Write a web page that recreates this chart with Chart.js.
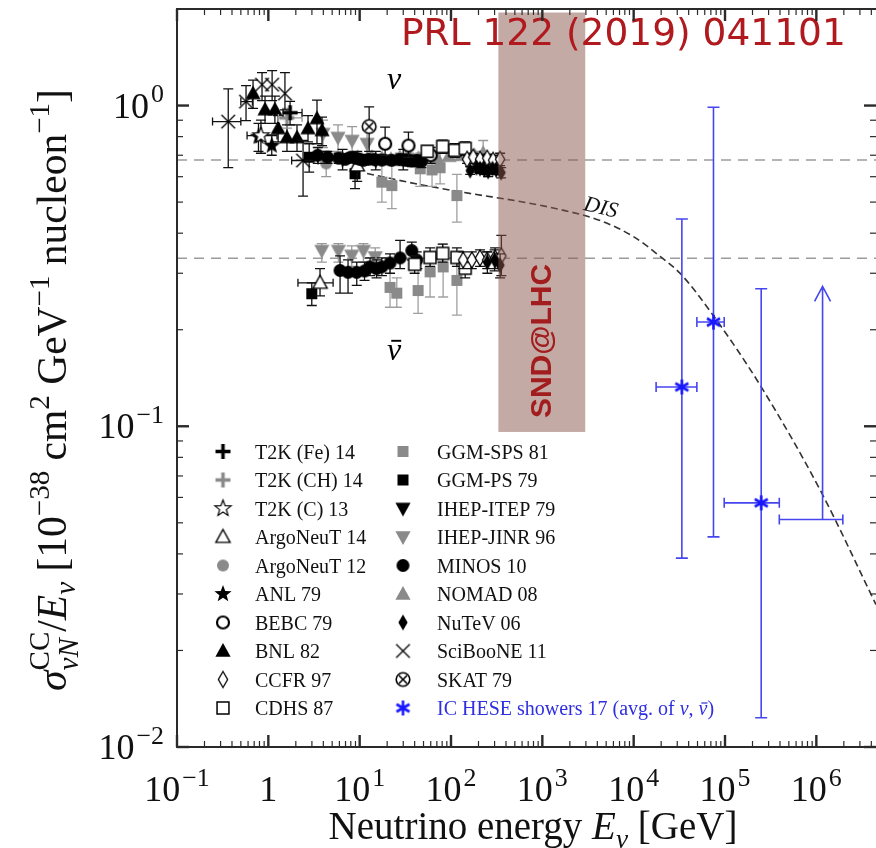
<!DOCTYPE html>
<html><head><meta charset="utf-8">
<script src="https://cdn.jsdelivr.net/npm/chart.js@4.4.1/dist/chart.umd.min.js"></script>
<style>html,body{margin:0;padding:0;background:#fff;overflow:hidden}canvas{display:block}</style>
</head><body>
<canvas id="c" width="876" height="848"></canvas>
<script>
// ---------------- DATA ----------------
// rows: [E (GeV), sigma/E, lower, upper, (E lower, E upper)]
const T2K_Fe_14 = [[1.73, 0.95, 0.87, 1.03, 1.45, 2.34]];
const T2K_CH_14 = [[1.60, 0.915, 0.85, 0.98, 1.29, 2.34]];
const T2K_C_13 = [[0.83, 0.806, 0.71, 0.90, 0.585, 1.245]];
const ArgoNeuT_14_nu = [[9.4, 0.65, 0.58, 0.72]];
const ArgoNeuT_14_nubar = [[3.68, 0.28, 0.255, 0.31, 2.11, 5.12]];
const ArgoNeuT_12 = [[4.3, 0.66, 0.60, 0.72]];
const ANL_79 = [[1.09, 0.75, 0.70, 0.81], [0.78, 0.80, 0.72, 0.88]];
const BEBC_79 = [[19, 0.76, 0.70, 0.856], [34.2, 0.75, 0.69, 0.826], [60, 0.70, 0.66, 0.74]];
const BNL_82 = [[0.68, 1.09, 0.98, 1.20], [0.92, 0.971, 0.88, 1.07], [1.18, 0.971, 0.88, 1.07],
  [1.28, 0.848, 0.77, 0.93], [1.60, 0.795, 0.72, 0.87], [2.06, 0.795, 0.72, 0.87],
  [2.72, 0.848, 0.77, 0.93], [3.41, 0.911, 0.76, 1.04], [3.87, 0.836, 0.75, 0.92]];
const CCFR_97_nu = [[150, 0.68, 0.66, 0.70], [175, 0.69, 0.67, 0.71], [208, 0.68, 0.66, 0.70],
  [249, 0.685, 0.665, 0.705], [289, 0.675, 0.655, 0.70], [345, 0.68, 0.65, 0.71]];
const CCFR_97_nubar = [[136, 0.33, 0.31, 0.35], [169, 0.33, 0.31, 0.35], [208, 0.335, 0.315, 0.355],
  [249, 0.33, 0.31, 0.35], [304, 0.335, 0.31, 0.36], [356, 0.34, 0.295, 0.394]];
const CDHS_87_nu = [[55, 0.72, 0.69, 0.75], [81, 0.745, 0.71, 0.78], [110, 0.725, 0.69, 0.76], [143, 0.735, 0.70, 0.77]];
const CDHS_87_nubar = [[40, 0.32, 0.30, 0.34], [59, 0.336, 0.315, 0.36], [81, 0.346, 0.325, 0.37],
  [116, 0.336, 0.315, 0.36], [143, 0.311, 0.29, 0.33]];
const GGM_SPS_81_nu = [[17.5, 0.577, 0.50, 0.66], [22.5, 0.563, 0.477, 0.65], [46, 0.635, 0.56, 0.71],
  [62, 0.63, 0.56, 0.70], [76, 0.64, 0.57, 0.71], [116, 0.524, 0.433, 0.61]];
const GGM_SPS_81_nubar = [[21.5, 0.271, 0.235, 0.31], [25.5, 0.26, 0.235, 0.29], [43.6, 0.265, 0.225, 0.31],
  [59, 0.303, 0.253, 0.35], [82, 0.314, 0.253, 0.37], [116, 0.285, 0.222, 0.35]];
const GGM_PS_79_nu = [[8.9, 0.613, 0.551, 0.674], [2.8, 0.69, 0.62, 0.76]];
const GGM_PS_79_nubar = [[2.99, 0.259, 0.238, 0.28]];
const IHEP_ITEP_79_nu = [[6.5, 0.68, 0.63, 0.73], [15, 0.675, 0.63, 0.72], [30, 0.68, 0.63, 0.73]];
const IHEP_JINR_96_nu = [[3.97, 0.818, 0.74, 0.90], [5.79, 0.795, 0.72, 0.87], [8.26, 0.778, 0.70, 0.86], [12.05, 0.761, 0.68, 0.84]];
const IHEP_JINR_96_nubar = [[3.85, 0.353, 0.325, 0.371], [5.85, 0.353, 0.325, 0.371], [8.19, 0.341, 0.315, 0.365],
  [11, 0.353, 0.325, 0.371], [14.8, 0.337, 0.31, 0.36]];
const MINOS_10_nu = [[3.48, 0.70, 0.66, 0.74], [4.45, 0.69, 0.66, 0.72], [5.89, 0.685, 0.66, 0.71], [6.98, 0.68, 0.66, 0.70],
  [7.97, 0.69, 0.67, 0.71], [8.97, 0.685, 0.665, 0.705], [9.98, 0.68, 0.66, 0.70], [11.0, 0.675, 0.655, 0.695],
  [12.5, 0.68, 0.66, 0.70], [14.5, 0.678, 0.66, 0.70], [17.5, 0.676, 0.655, 0.70], [22.4, 0.675, 0.655, 0.695],
  [27.4, 0.678, 0.655, 0.70], [32.4, 0.675, 0.65, 0.70], [37.4, 0.672, 0.645, 0.70], [42.4, 0.674, 0.645, 0.70], [47.4, 0.67, 0.64, 0.70]];
const MINOS_10_nubar = [[6.1, 0.306, 0.26, 0.34], [7.46, 0.302, 0.26, 0.33], [9.29, 0.302, 0.275, 0.325], [11.3, 0.305, 0.285, 0.325],
  [13, 0.314, 0.295, 0.335], [15.3, 0.31, 0.29, 0.33], [17.5, 0.314, 0.295, 0.335], [21.5, 0.323, 0.30, 0.345],
  [27.7, 0.335, 0.31, 0.38], [37.2, 0.353, 0.33, 0.375], [42.2, 0.33, 0.31, 0.35]];
const NOMAD_08 = [[9.5, 0.69, 0.67, 0.71], [13.5, 0.69, 0.67, 0.71], [17.5, 0.685, 0.665, 0.705], [22, 0.68, 0.66, 0.70],
  [27.5, 0.69, 0.67, 0.71], [35, 0.69, 0.67, 0.71], [44, 0.685, 0.665, 0.705], [55, 0.69, 0.67, 0.71],
  [70, 0.69, 0.67, 0.71], [95, 0.695, 0.675, 0.715], [130, 0.70, 0.68, 0.72], [180, 0.70, 0.68, 0.72], [225, 0.71, 0.68, 0.778]];
const NuTeV_06_nu = [[162, 0.627, 0.61, 0.645], [190, 0.64, 0.62, 0.66], [208, 0.636, 0.615, 0.655], [232, 0.63, 0.61, 0.65],
  [255, 0.623, 0.60, 0.645], [285, 0.636, 0.615, 0.655], [312, 0.63, 0.61, 0.65], [354, 0.618, 0.595, 0.64]];
const NuTeV_06_nubar = [[250, 0.325, 0.30, 0.35], [300, 0.33, 0.305, 0.355], [345, 0.318, 0.29, 0.345]];
const SciBooNE_11 = [[0.364, 0.891, 0.64, 1.127, 0.245, 0.5], [0.57, 1.029, 0.898, 1.154, 0.5, 0.67],
  [0.853, 1.162, 1.036, 1.267], [1.10, 1.162, 1.036, 1.285], [1.52, 1.09, 0.97, 1.267], [2.40, 0.674, 0.522, 0.778, 1.8, 3.5]];
const SKAT_79 = [[12.7, 0.86, 0.72, 0.99]];
const IC_HESE_17 = [[33700, 0.1326, 0.0388, 0.443, 17600, 49200], [74800, 0.2113, 0.0452, 0.988, 49200, 98000],
  [249000, 0.0577, 0.01234, 0.2685, 98000, 393000]];
const IC_HESE_17_limit = [[1.17e6, 0.0512, 0.273, 393000, 1.95e6]]; // E, lower limit, arrow tip, E lower, E upper
const DIS_curve = [[12.05, 0.614], [45.9, 0.567], [162, 0.532], [571, 0.502], [1567, 0.474], [4297, 0.438], [9874, 0.3907],
  [19510, 0.3385], [32300, 0.2997], [74240, 0.2217], [242900, 0.1342], [1.103e6, 0.0632], [4.5e6, 0.0278]];
const avgLines = [0.677, 0.334];
const sndBand = {eMin: 330, eMax: 2950, yMin: 0.096, yMax: 1.95};
const xDecades = [-1, 0, 1, 2, 3, 4, 5, 6];
const yDecades = [-2, -1, 0];
const X_MIN = 0.1, X_MAX = 4.5e6, Y_MIN = 0.01, Y_MAX = 2.0;

// ---------------- MARKERS ----------------
function marker(shape, fill, stroke, size, lw) {
  const pad = 4, S = Math.ceil(size + pad * 2);
  const c = document.createElement('canvas'); c.width = S; c.height = S;
  const g = c.getContext('2d'); g.translate(S / 2, S / 2);
  const r = size / 2;
  g.lineWidth = lw; g.strokeStyle = stroke || '#000'; g.fillStyle = fill || '#000'; g.lineJoin = 'miter';
  g.beginPath();
  if (shape === 'plus') { g.moveTo(-r, 0); g.lineTo(r, 0); g.moveTo(0, -r); g.lineTo(0, r); g.stroke(); }
  else if (shape === 'x') { const a = r * 0.8; g.moveTo(-a, -a); g.lineTo(a, a); g.moveTo(a, -a); g.lineTo(-a, a); g.stroke(); }
  else if (shape === 'aster') {
    for (let k = 0; k < 3; k++) { const t = Math.PI / 2 + k * Math.PI / 3; g.moveTo(r * Math.cos(t), r * Math.sin(t)); g.lineTo(-r * Math.cos(t), -r * Math.sin(t)); }
    g.stroke();
  } else {
    if (shape === 'circle' || shape === 'otimes') g.arc(0, 0, shape === 'otimes' ? r * 0.85 : r, 0, 2 * Math.PI);
    else if (shape === 'square') { const a = r * 0.85; g.rect(-a, -a, 2 * a, 2 * a); }
    else if (shape === 'triUp') { g.moveTo(0, -r); g.lineTo(r * 0.95, r * 0.72); g.lineTo(-r * 0.95, r * 0.72); g.closePath(); }
    else if (shape === 'triDown') { g.moveTo(0, r); g.lineTo(r * 0.95, -r * 0.72); g.lineTo(-r * 0.95, -r * 0.72); g.closePath(); }
    else if (shape === 'diamond') { g.moveTo(0, -r); g.lineTo(r * 0.58, 0); g.lineTo(0, r); g.lineTo(-r * 0.58, 0); g.closePath(); }
    else if (shape === 'star') {
      for (let k = 0; k < 10; k++) { const t = -Math.PI / 2 + k * Math.PI / 5; const rr = k % 2 ? r * 0.42 : r; g.lineTo(rr * Math.cos(t), rr * Math.sin(t)); }
      g.closePath();
    }
    if (fill) g.fill();
    if (stroke && lw) g.stroke();
    if (shape === 'otimes') { const a = r * 0.5; g.beginPath(); g.moveTo(-a, -a); g.lineTo(a, a); g.moveTo(a, -a); g.lineTo(-a, a); g.stroke(); }
  }
  return c;
}
const GRAY = '#8a8a8a', BLUE = '#1818ff';
const M = {
  plusBlack: marker('plus', null, '#000', 15, 3.5),
  plusGray: marker('plus', null, GRAY, 15, 3.5),
  starOpen: marker('star', '#fff', '#000', 17, 1.2),
  triOpen: marker('triUp', '#fff', '#000', 15, 1.4),
  circGray: marker('circle', GRAY, null, 12, 0),
  starBlack: marker('star', '#000', null, 18, 0),
  circOpen: marker('circle', '#fff', '#000', 12, 2.2),
  triBlack: marker('triUp', '#000', null, 16, 0),
  diaOpen: marker('diamond', '#fff', '#000', 16, 1.3),
  sqOpen: marker('square', '#fff', '#000', 14, 1.5),
  sqGray: marker('square', GRAY, null, 13, 0),
  sqBlack: marker('square', '#000', null, 13, 0),
  triDownBlack: marker('triDown', '#000', null, 16, 0),
  triDownGray: marker('triDown', GRAY, null, 16, 0),
  circBlack: marker('circle', '#000', null, 13, 0),
  triGray: marker('triUp', GRAY, null, 16, 0),
  diaBlack: marker('diamond', '#000', null, 16, 0),
  xBlack: marker('x', null, '#000', 17, 1.3),
  otimes: marker('otimes', '#fff', '#000', 16, 1.6),
  aster: marker('aster', null, BLUE, 15, 2.6)
};

const series = [
  {label: 'T2K (Fe) 14', m: 'plusBlack', sets: [T2K_Fe_14], ec: '#111', z: 8},
  {label: 'T2K (CH) 14', m: 'plusGray', sets: [T2K_CH_14], ec: '#999', z: 9},
  {label: 'T2K (C) 13', m: 'starOpen', sets: [T2K_C_13], ec: '#111', z: 10},
  {label: 'ArgoNeuT 14', m: 'triOpen', sets: [ArgoNeuT_14_nu, ArgoNeuT_14_nubar], ec: '#111', z: 13},
  {label: 'ArgoNeuT 12', m: 'circGray', sets: [ArgoNeuT_12], ec: '#999', z: 19},
  {label: 'ANL 79', m: 'starBlack', sets: [ANL_79], ec: '#111', z: 11},
  {label: 'BEBC 79', m: 'circOpen', sets: [BEBC_79], ec: '#111', z: 5},
  {label: 'BNL 82', m: 'triBlack', sets: [BNL_82], ec: '#111', z: 12},
  {label: 'CCFR 97', m: 'diaOpen', sets: [CCFR_97_nu, CCFR_97_nubar], ec: '#111', z: 3},
  {label: 'CDHS 87', m: 'sqOpen', sets: [CDHS_87_nu, CDHS_87_nubar], ec: '#111', z: 4},
  {label: 'GGM-SPS 81', m: 'sqGray', sets: [GGM_SPS_81_nu, GGM_SPS_81_nubar], ec: '#a0a0a0', z: 18},
  {label: 'GGM-PS 79', m: 'sqBlack', sets: [GGM_PS_79_nu, GGM_PS_79_nubar], ec: '#111', z: 14},
  {label: 'IHEP-ITEP 79', m: 'triDownBlack', sets: [IHEP_ITEP_79_nu], ec: '#111', z: 15},
  {label: 'IHEP-JINR 96', m: 'triDownGray', sets: [IHEP_JINR_96_nu, IHEP_JINR_96_nubar], ec: '#999', z: 17},
  {label: 'MINOS 10', m: 'circBlack', sets: [MINOS_10_nu, MINOS_10_nubar], ec: '#111', z: 6},
  {label: 'NOMAD 08', m: 'triGray', sets: [NOMAD_08], ec: '#999', z: 16},
  {label: 'NuTeV 06', m: 'diaBlack', sets: [NuTeV_06_nu, NuTeV_06_nubar], ec: '#111', z: 2},
  {label: 'SciBooNE 11', m: 'xBlack', sets: [SciBooNE_11], ec: '#111', z: 7},
  {label: 'SKAT 79', m: 'otimes', sets: [SKAT_79], ec: '#111', z: 1},
  {label: 'IC HESE showers 17', m: 'aster', sets: [IC_HESE_17], ec: '#4646f0', z: 0, ic: true}
];

const datasets = [];
series.forEach(s => s.sets.forEach(rows => datasets.push({
  label: s.label, data: rows.map(r => ({x: r[0], y: r[1]})), err: rows, errColor: s.ec, ic: !!s.ic,
  pointStyle: M[s.m], pointRadius: 6, pointHoverRadius: 6, order: s.z, showLine: false
})));
datasets.push({
  type: 'line', label: 'DIS', data: DIS_curve.map(r => ({x: r[0], y: r[1]})), borderColor: '#333',
  borderWidth: 1.6, borderDash: [7, 4], pointRadius: 0, fill: false, cubicInterpolationMode: 'monotone', order: 50, showLine: true
});

// ---------------- TEXT HELPERS ----------------
const SERIF = '"Liberation Serif", "Times New Roman", serif';
function fnt(s) { return (s.it ? 'italic ' : '') + (s.b ? 'bold ' : '') + s.size + 'px ' + (s.fam || SERIF); }
function richLayout(g, segs) {
  let x = 0, hold = 0; const out = [];
  for (const s of segs) {
    x += s.pre || 0;
    g.font = fnt(s); const w = g.measureText(s.t).width; out.push({s, x, w});
    if (s.stack) hold = Math.max(hold, w); else { x += Math.max(w, hold); hold = 0; }
  }
  return {out, width: x};
}
function richDraw(g, segs, x, y, align, color) {
  const L = richLayout(g, segs);
  const x0 = align === 'center' ? x - L.width / 2 : align === 'right' ? x - L.width : x;
  g.textAlign = 'left'; g.textBaseline = 'alphabetic';
  for (const o of L.out) {
    g.font = fnt(o.s); g.fillStyle = o.s.color || color || '#000';
    const yy = y + (o.s.dy || 0);
    g.fillText(o.s.t, x0 + o.x, yy);
    if (o.s.bar) {
      g.save(); g.strokeStyle = g.fillStyle; g.lineWidth = Math.max(1, o.s.size * 0.06);
      g.beginPath(); const by = yy - o.s.size * 0.6;
      g.moveTo(x0 + o.x + o.w * 0.3, by); g.lineTo(x0 + o.x + o.w * 1.0, by); g.stroke(); g.restore();
    }
  }
  return L.width;
}
function pow10(n, size) {
  if (n === 0 && size.one) return [{t: '1', size: size.s}];
  const ex = n < 0 ? '\u2212' + (-n) : String(n);
  return [{t: '10', size: size.s}, {t: ex, size: size.s * 0.72, dy: -size.s * 0.42, pre: 2}];
}

// ---------------- PLUGIN ----------------
const deco = {
  id: 'deco',
  beforeDatasetsDraw(chart) {
    const g = chart.ctx, a = chart.chartArea, ys = chart.scales.y;
    g.save(); g.strokeStyle = '#9c9c9c'; g.lineWidth = 1.5; g.setLineDash([10, 7]);
    for (const v of avgLines) { const py = ys.getPixelForValue(v); g.beginPath(); g.moveTo(a.left, py); g.lineTo(a.right, py); g.stroke(); }
    g.restore();
  },
  beforeDatasetDraw(chart, args) {
    const ds = chart.data.datasets[args.index]; if (!ds.err) return;
    const g = chart.ctx, xs = chart.scales.x, ys = chart.scales.y;
    g.save(); g.strokeStyle = ds.errColor; g.lineWidth = ds.ic ? 1.6 : 1.3;
    const cap = ds.ic ? 6 : 5, hcap = ds.ic ? 5 : 4;
    g.beginPath();
    for (const r of ds.err) {
      const px = xs.getPixelForValue(r[0]), py = ys.getPixelForValue(r[1]);
      if (r[2] != null) {
        const p1 = ys.getPixelForValue(r[2]), p2 = ys.getPixelForValue(r[3]);
        g.moveTo(px, p1); g.lineTo(px, p2);
        g.moveTo(px - cap, p1); g.lineTo(px + cap, p1); g.moveTo(px - cap, p2); g.lineTo(px + cap, p2);
      }
      if (r[4] != null) {
        const q1 = xs.getPixelForValue(r[4]), q2 = xs.getPixelForValue(r[5]);
        g.moveTo(q1, py); g.lineTo(q2, py);
        g.moveTo(q1, py - hcap); g.lineTo(q1, py + hcap); g.moveTo(q2, py - hcap); g.lineTo(q2, py + hcap);
      }
    }
    g.stroke(); g.restore();
  },
  afterDatasetsDraw(chart) {
    const g = chart.ctx, a = chart.chartArea, xs = chart.scales.x, ys = chart.scales.y;
    // IceCube lower limit
    g.save(); g.strokeStyle = '#4646f0'; g.lineWidth = 1.6; g.beginPath();
    for (const r of IC_HESE_17_limit) {
      const px = xs.getPixelForValue(r[0]), py = ys.getPixelForValue(r[1]), pt = ys.getPixelForValue(r[2]);
      const q1 = xs.getPixelForValue(r[3]), q2 = xs.getPixelForValue(r[4]);
      g.moveTo(q1, py); g.lineTo(q2, py); g.moveTo(q1, py - 5); g.lineTo(q1, py + 5); g.moveTo(q2, py - 5); g.lineTo(q2, py + 5);
      g.moveTo(px, py); g.lineTo(px, pt); g.moveTo(px - 8, pt + 15); g.lineTo(px, pt); g.lineTo(px + 8, pt + 15);
    }
    g.stroke(); g.restore();
    // SND@LHC band
    const bx1 = xs.getPixelForValue(sndBand.eMin), bx2 = xs.getPixelForValue(sndBand.eMax);
    const by1 = ys.getPixelForValue(sndBand.yMax), by2 = ys.getPixelForValue(sndBand.yMin);
    g.save(); g.fillStyle = 'rgba(137,86,76,0.5)'; g.fillRect(bx1, by1, bx2 - bx1, by2 - by1);
    g.translate((bx1 + bx2) / 2, 341); g.rotate(-Math.PI / 2);
    g.font = 'bold 30px "Liberation Sans", Arial, sans-serif'; g.fillStyle = '#a21d1d';
    g.textAlign = 'center'; g.textBaseline = 'middle'; g.fillText('SND@LHC', 0, 1);
    g.restore();
    // title
    g.save(); g.font = '37.5px "DejaVu Sans", sans-serif'; g.fillStyle = '#b01a1f'; g.textAlign = 'left'; g.textBaseline = 'alphabetic';
    g.fillText('PRL 122 (2019) 041101', 401, 45); g.restore();
    // nu labels
    g.save();
    richDraw(g, [{t: 'ν', size: 32, it: true}], 387, 89, 'left');
    richDraw(g, [{t: 'ν', size: 32, it: true, bar: true}], 387, 360, 'left');
    // DIS label
    g.translate(601, 207); g.rotate(0.24);
    richDraw(g, [{t: 'DIS', size: 22, it: true}], 0, 7, 'center', '#111');
    g.restore();
    // legend
    g.save();
    const rowH = 28.5, y0 = 451.5;
    series.forEach((s, i) => {
      const col = i < 10 ? 0 : 1, row = i % 10;
      const mx = col ? 403 : 223, tx = col ? 437 : 255, y = y0 + row * rowH;
      const img = M[s.m]; g.drawImage(img, mx - img.width / 2, y - img.height / 2);
      if (s.ic) {
        richDraw(g, [{t: 'IC HESE showers 17 (avg. of ', size: 20}, {t: 'ν', size: 20, it: true}, {t: ', ', size: 20},
          {t: 'ν', size: 20, it: true, bar: true}, {t: ')', size: 20}], tx, y + 7, 'left', '#2f2fe0');
      } else {
        richDraw(g, [{t: s.label, size: 20}], tx, y + 7, 'left', '#111');
      }
    });
    g.restore();
    // axes frame and ticks
    g.save(); g.strokeStyle = '#2a2a2a'; g.lineWidth = 2;
    g.beginPath(); g.moveTo(a.right + 2, a.top); g.lineTo(a.left, a.top); g.lineTo(a.left, a.bottom); g.lineTo(a.right + 2, a.bottom); g.stroke();
    const seg = (x1, y1, x2, y2, w) => { g.lineWidth = w; g.beginPath(); g.moveTo(x1, y1); g.lineTo(x2, y2); g.stroke(); };
    for (let n = -1; n <= 6; n++) for (let k = 1; k <= 9; k++) {
      const v = k * Math.pow(10, n); if (v > X_MAX * 1.0001) continue;
      const px = xs.getPixelForValue(v), L = k === 1 ? 12 : 6, w = k === 1 ? 2.4 : 1.2;
      seg(px, a.bottom, px, a.bottom - L, w); seg(px, a.top, px, a.top + L, w);
    }
    for (let n = -2; n <= 0; n++) for (let k = 1; k <= 9; k++) {
      const v = k * Math.pow(10, n); if (v > Y_MAX * 1.0001) continue;
      const py = ys.getPixelForValue(v), L = k === 1 ? 12 : 6, w = k === 1 ? 2.4 : 1.2;
      seg(a.left, py, a.left + L, py, w); seg(a.right, py, a.right - L, py, w);
    }
    g.restore();
    // tick labels
    g.save();
    for (const n of xDecades) {
      const px = xs.getPixelForValue(Math.pow(10, n));
      richDraw(g, pow10(n, {s: 36, one: true}), px, 801, 'center', '#111');
    }
    for (const n of yDecades) {
      const py = ys.getPixelForValue(Math.pow(10, n));
      richDraw(g, pow10(n, {s: 36}), 164, py + 12, 'right', '#111');
    }
    // x title
    const F = 39;
    richDraw(g, [{t: 'Neutrino energy ', size: F}, {t: 'E', size: F, it: true}, {t: 'ν', size: F * 0.7, it: true, dy: F * 0.22},
      {t: ' [GeV]', size: F}], 533, 839, 'center', '#111');
    // y title
    const Fy = 41.5;
    g.translate(66, 390); g.rotate(-Math.PI / 2);
    richDraw(g, [
      {t: 'σ', size: Fy, it: true},
      {t: 'νN', size: Fy * 0.7, it: true, dy: Fy * 0.28, stack: true},
      {t: 'CC', size: Fy * 0.7, dy: -Fy * 0.42},
      {t: '/', size: Fy},
      {t: 'E', size: Fy, it: true},
      {t: 'ν', size: Fy * 0.7, it: true, dy: Fy * 0.22},
      {t: ' [10', size: Fy},
      {t: '\u221238', size: Fy * 0.7, dy: -Fy * 0.42},
      {t: ' cm', size: Fy},
      {t: '2', size: Fy * 0.7, dy: -Fy * 0.42},
      {t: ' GeV', size: Fy},
      {t: '\u22121', size: Fy * 0.7, dy: -Fy * 0.42},
      {t: ' nucleon', size: Fy},
      {t: '\u22121', size: Fy * 0.7, dy: -Fy * 0.42},
      {t: ']', size: Fy}
    ], 0, 0, 'center', '#111');
    g.restore();
  }
};

new Chart(document.getElementById('c'), {
  type: 'scatter',
  data: {datasets},
  options: {
    responsive: false, animation: false, devicePixelRatio: 1, events: [],
    layout: {autoPadding: false, padding: {left: 177, right: 0, top: 9, bottom: 101}},
    plugins: {legend: {display: false}, tooltip: {enabled: false}, title: {display: false}},
    scales: {
      x: {type: 'logarithmic', min: X_MIN, max: X_MAX, display: false},
      y: {type: 'logarithmic', min: Y_MIN, max: Y_MAX, display: false}
    }
  },
  plugins: [deco]
});
</script>
</body></html>
